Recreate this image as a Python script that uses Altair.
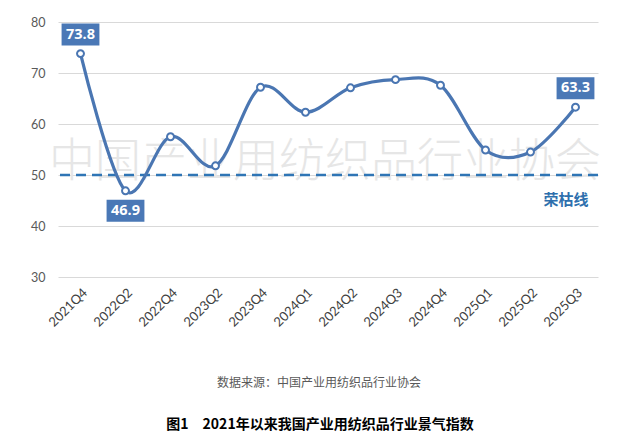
import altair as alt
import pandas as pd

quarters = ["2021Q4", "2022Q2", "2022Q4", "2023Q2", "2023Q4", "2024Q1",
            "2024Q2", "2024Q3", "2024Q4", "2025Q1", "2025Q2", "2025Q3"]
values = [73.8, 46.9, 57.5, 51.8, 67.2, 62.3, 67.1, 68.7, 67.6, 54.9, 54.5, 63.3]
labels_above = ["2021Q4", "2025Q3"]
labels_below = ["2022Q2"]
threshold = [50]
threshold_label = "荣枯线"
watermark = "中国产业用纺织品行业协会"
source_text = "数据来源：中国产业用纺织品行业协会"
title_text = "图1\u30002021年以来我国产业用纺织品行业景气指数"

df = pd.DataFrame({"q": quarters, "v": values})
df["lab"] = df["v"].map(lambda x: f"{x:.1f}")

LINE = "#4a76b2"
BOX = "#4a78b6"
DASH = "#2f75b5"

x = alt.X("q:N", sort=quarters, title=None,
          scale=alt.Scale(paddingInner=0, paddingOuter=0),
          axis=alt.Axis(labelAngle=-45, labelFontSize=13, labelColor="#404040",
                        labelFont="Lato", ticks=False, domain=False, labelPadding=9))
y = alt.Y("v:Q", title=None,
          scale=alt.Scale(domain=[30, 80], nice=False, zero=False),
          axis=alt.Axis(values=[30, 40, 50, 60, 70, 80], labelFontSize=12.5,
                        labelColor="#595959", labelFont="Lato", ticks=False,
                        domain=False, gridColor="#d9d9d9", gridWidth=1,
                        labelPadding=13))

base = alt.Chart(df)

wm = alt.Chart(pd.DataFrame({"t": [watermark]})).mark_text(
    fontSize=46, color="#e6e6e6", font="Noto Sans CJK SC", fontWeight=300,
    align="center", baseline="middle"
).encode(text="t:N", x=alt.value(267), y=alt.value(140))

rule = alt.Chart(pd.DataFrame({"v": threshold})).mark_rule(
    color=DASH, strokeWidth=2.5, strokeDash=[10, 6]
).encode(y=alt.Y("v:Q", scale=alt.Scale(domain=[30, 80], nice=False, zero=False)))

rule_lab = alt.Chart(pd.DataFrame({"t": [threshold_label]})).mark_text(
    fontSize=15, color="#2e6fad", font="Noto Sans CJK SC", fontWeight="bold",
    align="center", baseline="middle"
).encode(text="t:N", x=alt.value(508), y=alt.value(178))

line = base.mark_line(color=LINE, strokeWidth=3.2, interpolate="cardinal").encode(x=x, y=y)
pts = base.mark_point(filled=True, fill="white", stroke=LINE, strokeWidth=2,
                      size=48, opacity=1).encode(x=x, y=y)

rect_shape = "M-1.72,-1H1.72V1H-1.72Z"
above = base.transform_filter(alt.FieldOneOfPredicate(field="q", oneOf=labels_above))
below = base.transform_filter(alt.FieldOneOfPredicate(field="q", oneOf=labels_below))

box_a = above.mark_point(shape=rect_shape, filled=True, fill=BOX, size=484,
                         opacity=1, strokeWidth=0, yOffset=-19).encode(x=x, y=y)
txt_a = above.mark_text(color="white", fontSize=14.5, fontWeight="bold",
                        font="Open Sans", yOffset=-19, baseline="middle").encode(x=x, y=y, text="lab:N")
box_b = below.mark_point(shape=rect_shape, filled=True, fill=BOX, size=484,
                         opacity=1, strokeWidth=0, yOffset=20).encode(x=x, y=y)
txt_b = below.mark_text(color="white", fontSize=14.5, fontWeight="bold",
                        font="Open Sans", yOffset=20, baseline="middle").encode(x=x, y=y, text="lab:N")

src = alt.Chart(pd.DataFrame({"t": [source_text]})).mark_text(
    fontSize=12, color="#595959", font="Noto Sans CJK SC", align="center", baseline="middle"
).encode(text="t:N", x=alt.value(261), y=alt.value(361))

ttl = alt.Chart(pd.DataFrame({"t": [title_text]})).mark_text(
    fontSize=14, color="#000000", font="Noto Sans CJK SC", fontWeight="bold",
    align="center", baseline="middle"
).encode(text="t:N", x=alt.value(262), y=alt.value(403))

chart = alt.layer(
    base.mark_point(opacity=0).encode(x=x, y=y),
    wm, rule, rule_lab, line, pts, box_a, txt_a, box_b, txt_b, src, ttl
).properties(
    width=540, height=255,
    autosize=alt.AutoSizeParams(type="none"),
    padding={"left": 50, "top": 14, "right": 20, "bottom": 165},
    background="white"
).configure_view(stroke=None)

chart.save("out.html", embed_options={"renderer": "svg", "actions": False})
